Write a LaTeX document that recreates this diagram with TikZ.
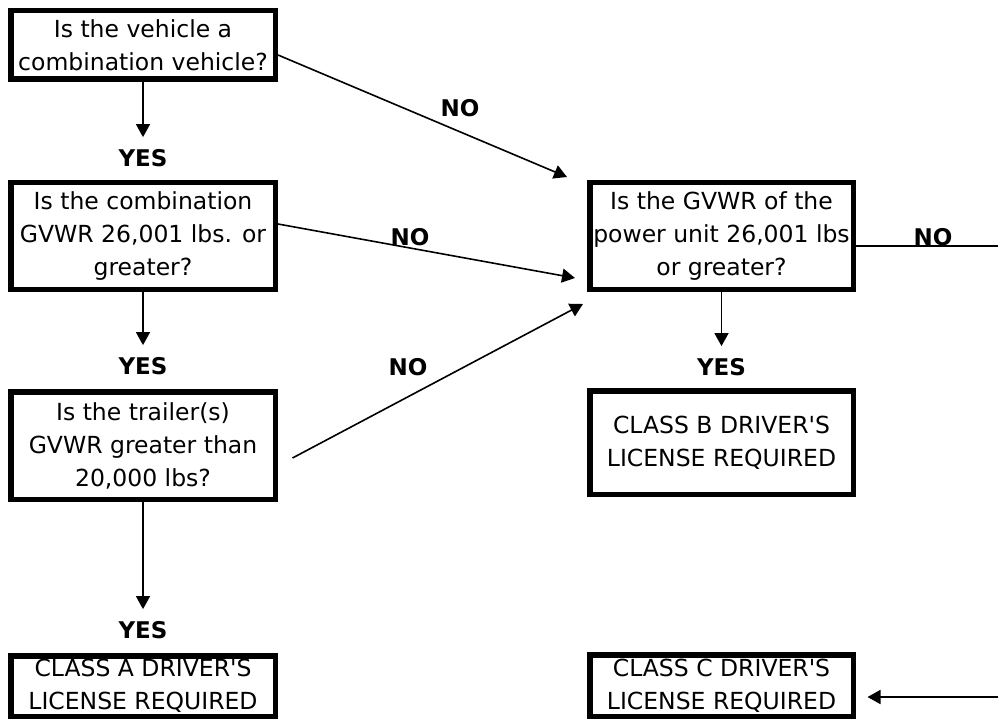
\documentclass[tikz,border=0pt]{standalone}
\usepackage{fontspec}
\setmainfont{DejaVu Sans}
\usetikzlibrary{arrows.meta}

\begin{document}
\begin{tikzpicture}[x=1pt, y=-1pt,
  qbox/.style={draw, line width=5.5pt, align=center, inner sep=0pt,
    font=\fontsize{23.5}{33}\selectfont, minimum width=264.5pt},
  ans/.style={font=\fontsize{23}{28}\selectfont\bfseries, inner sep=0pt},
  flow/.style={line width=1.6pt, -{Triangle[length=13pt,width=14pt]}},
  link/.style={line width=1.6pt}]
\useasboundingbox (0,0) rectangle (998,719);

% Left column
\node[qbox, minimum height=68.5pt] (q1) at (143,45) {Is the vehicle a\\combination vehicle?};
\node[qbox, minimum height=106.5pt] (q2) at (143,236) {Is the combination\\GVWR 26,001 lbs. or\\greater?};
\node[qbox, minimum height=107.5pt] (q3) at (143,445.5) {Is the trailer(s)\\GVWR greater than\\20,000 lbs?};
\node[qbox, minimum height=60.5pt] (classa) at (143,686) {CLASS A DRIVER\textquotesingle S\\LICENSE REQUIRED};

% Right column
\node[qbox, minimum width=263.5pt, minimum height=106.5pt] (q4) at (721.5,236) {Is the GVWR of the\\power unit 26,001 lbs\\or greater?};
\node[qbox, minimum width=263.5pt, minimum height=103.5pt] (classb) at (721.5,442.5) {CLASS B DRIVER\textquotesingle S\\LICENSE REQUIRED};
\node[qbox, minimum width=263.5pt, minimum height=61.5pt] (classc) at (721.5,685.5) {CLASS C DRIVER\textquotesingle S\\LICENSE REQUIRED};

% YES answers
\node[ans, inner ysep=12pt] (yes1) at (143,158) {YES};
\node[ans, inner ysep=12pt] (yes2) at (143,366) {YES};
\node[ans, inner ysep=12pt] (yes3) at (143,630) {YES};
\node[ans, inner ysep=12pt] (yesb) at (721.5,367) {YES};
\draw[flow] (q1) -- (yes1);
\draw[flow] (q2) -- (yes2);
\draw[flow] (q3) -- (yes3);
\draw[flow] (q4) -- (yesb);

% NO answers
\node[ans] (no1) at (460,108) {NO};
\node[ans] (no2) at (410,237) {NO};
\node[ans] (no3) at (408,367) {NO};
\node[ans] (no4) at (933,237) {NO};
\coordinate (tip1) at (567,177);
\coordinate (tip2) at (575,278);
\coordinate (tip3) at (583,304);
\draw[flow] ([yshift=-10pt]q1.east) -- (tip1);
\draw[flow] ([yshift=12pt]q2.east) -- (tip2);
\draw[flow] ([xshift=14.5pt,yshift=-12.5pt]q3.east) -- (tip3);

% Off to the right
\coordinate (edge1) at (998,246);
\coordinate (edge2) at (998,697);
\draw[link] ([yshift=-10pt]q4.east) -- (edge1);
\draw[flow] (edge2) -- ([xshift=11.5pt,yshift=-11.5pt]classc.east);
\end{tikzpicture}
\end{document}
